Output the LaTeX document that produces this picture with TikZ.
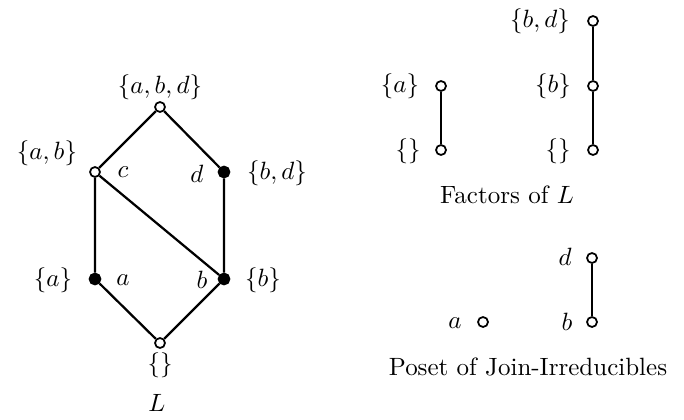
\documentclass[tikz,border=0pt]{standalone}
\usetikzlibrary{positioning}
\begin{document}
\begin{tikzpicture}[x=0.4pt, y=-0.4pt,
  elt/.style={circle, draw, line width=0.7pt, inner sep=0pt, minimum size=4pt},
  jirr/.style={elt, fill=black, minimum size=4.4pt},
  edge/.style={line width=0.9pt},
  lbl/.style={inner sep=0pt}
]
\useasboundingbox (0,0) rectangle (684,419);
% the lattice L
\node[elt]  (top) at (160,107) {};
\node[elt]  (c)   at (95,172)  {};
\node[jirr] (d)   at (224,172) {};
\node[jirr] (a)   at (95,279)  {};
\node[jirr] (b)   at (224,279) {};
\node[elt]  (bot) at (160,343) {};
\draw[edge] (bot) -- (a) -- (c) -- (top) -- (d) -- (b) -- (bot);
\draw[edge] (c) -- (b);
\node[lbl] (ltop) at (160,87)  {$\{a,b,d\}$};
\node[lbl] (lab)  at (47,153)  {$\{a,b\}$};
\node[lbl] (lc)   at (123,172) {$c$};
\node[lbl] (ld)   at (197,174) {$d$};
\node[lbl] (lbd)  at (277,173) {$\{b,d\}$};
\node[lbl] (la)   at (53,280)  {$\{a\}$};
\node[lbl] (lla)  at (123,280) {$a$};
\node[lbl] (llb)  at (202,280) {$b$};
\node[lbl] (lb)   at (263,280) {$\{b\}$};
\node[lbl] (lbot) at (160,365) {$\{\}$};
\node[lbl] (capL) at (157,403) {$L$};
% factors
\node[elt] (fa)   at (441,86)  {};
\node[elt] (fa0)  at (441,150) {};
\draw[edge] (fa) -- (fa0);
\node[lbl] (lfa)  at (400,86)  {$\{a\}$};
\node[lbl] (lfa0) at (408,151) {$\{\}$};
\node[elt] (fbd)  at (593,21)  {};
\node[elt] (fb)   at (593,86)  {};
\node[elt] (fb0)  at (593,150) {};
\draw[edge] (fbd) -- (fb) -- (fb0);
\node[lbl] (lfbd) at (540,21)  {$\{b,d\}$};
\node[lbl] (lfb)  at (553,86)  {$\{b\}$};
\node[lbl] (lfb0) at (558,151) {$\{\}$};
\node[lbl] (capF) at (507,195) {Factors of $L$};
% join-irreducibles
\node[elt] (pd) at (592,258) {};
\node[elt] (pb) at (592,322) {};
\node[elt] (pa) at (483,322) {};
\draw[edge] (pd) -- (pb);
\node[lbl] (lpd) at (565,257) {$d$};
\node[lbl] (lpb) at (567,322) {$b$};
\node[lbl] (lpa) at (455,323) {$a$};
\node[lbl] (capP) at (528,367) {Poset of Join-Irreducibles};
\end{tikzpicture}
\end{document}
